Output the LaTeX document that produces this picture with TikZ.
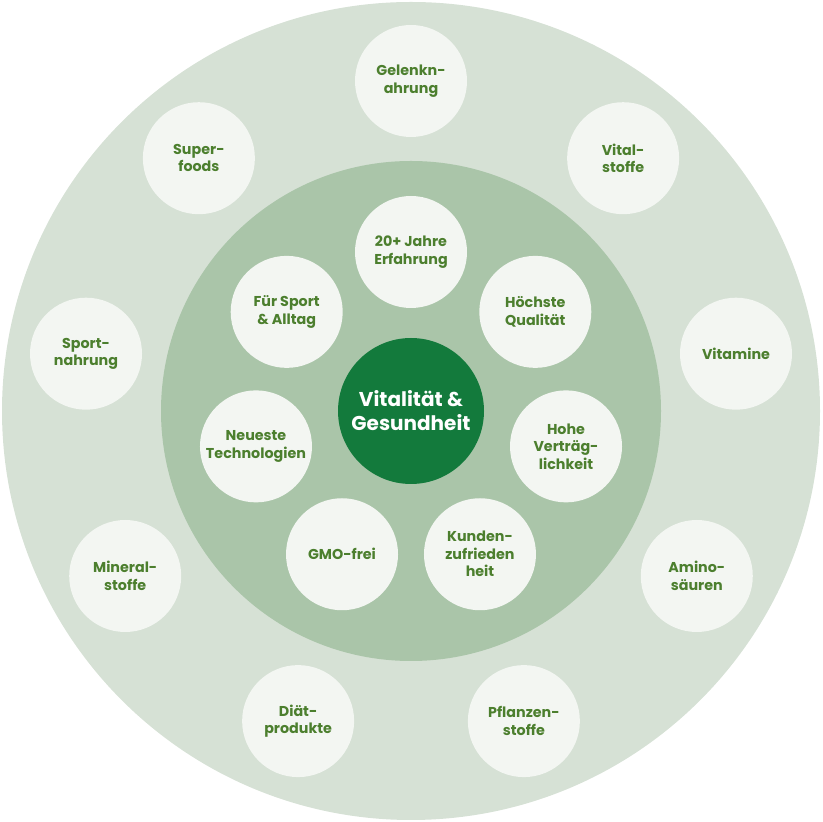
\documentclass[tikz,border=0pt]{standalone}
\usepackage{fontspec}
\setmainfont{Poppins}
\usetikzlibrary{calc}
\definecolor{outerbg}{HTML}{D6E1D5}
\definecolor{innerbg}{HTML}{AAC5A9}
\definecolor{bubble}{HTML}{F3F6F2}
\definecolor{core}{HTML}{137A3C}
\definecolor{txt}{HTML}{4C7F2E}
\tikzset{
  bubblenode/.style={circle, fill=bubble, minimum size=112pt, inner sep=0pt, align=center,
    text=txt, font=\bfseries\fontsize{14.3}{17.5}\selectfont},
  corenode/.style={circle, fill=core, minimum size=146pt, inner sep=0pt, align=center,
    text=white, font=\bfseries\fontsize{20}{24}\selectfont},
}
\begin{document}
\begin{tikzpicture}[x=1pt,y=1pt]
\useasboundingbox (0,0) rectangle (822,822);
\coordinate (c) at (411,411);
\fill[outerbg] (c) circle[radius=409];
\fill[innerbg] (c) circle[radius=250];
\node[corenode] (core) at (c) {Vitalität \&\\Gesundheit};
% inner ring: 7 items, radius 159
\node[bubblenode] (i1) at ($(c)+(90:159)$) {20+ Jahre\\Erfahrung};
\node[bubblenode] (i2) at ($(c)+(38.571:159)$) {Höchste\\Qualität};
\node[bubblenode] (i3) at ($(c)+(-12.857:159)$) {Hohe\\Verträg-\\lichkeit};
\node[bubblenode] (i4) at ($(c)+(-64.286:159)$) {Kunden-\\zufrieden\\heit};
\node[bubblenode] (i5) at ($(c)+(-115.714:159)$) {GMO-frei};
\node[bubblenode] (i6) at ($(c)+(-167.143:159)$) {Neueste\\Technologien};
\node[bubblenode] (i7) at ($(c)+(141.429:159)$) {Für Sport\\\& Alltag};
% outer ring: 9 items, radius 330
\node[bubblenode] (o1) at ($(c)+(90:330)$) {Gelenkn-\\ahrung};
\node[bubblenode] (o2) at ($(c)+(50:330)$) {Vital-\\stoffe};
\node[bubblenode] (o3) at ($(c)+(10:330)$) {Vitamine};
\node[bubblenode] (o4) at ($(c)+(-30:330)$) {Amino-\\säuren};
\node[bubblenode] (o5) at ($(c)+(-70:330)$) {Pflanzen-\\stoffe};
\node[bubblenode] (o6) at ($(c)+(-110:330)$) {Diät-\\produkte};
\node[bubblenode] (o7) at ($(c)+(-150:330)$) {Mineral-\\stoffe};
\node[bubblenode] (o8) at ($(c)+(170:330)$) {Sport-\\nahrung};
\node[bubblenode] (o9) at ($(c)+(130:330)$) {Super-\\foods};
\end{tikzpicture}
\end{document}
